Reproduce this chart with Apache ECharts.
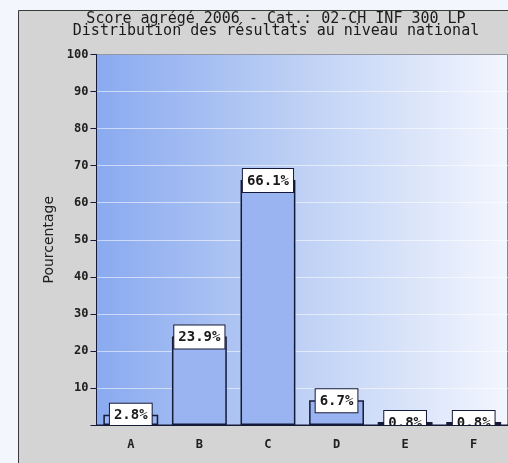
<!DOCTYPE html>
<html>
<head>
<meta charset="utf-8">
<script src="https://cdn.jsdelivr.net/npm/echarts@6/dist/echarts.min.js"></script>
<style>html,body{margin:0;padding:0;background:#f3f7fd;}#c{width:508px;height:463px;}</style>
</head>
<body>
<div id="c"></div>
<script>
var categories = ['A', 'B', 'C', 'D', 'E', 'F'];
var values = [2.8, 23.9, 66.1, 6.7, 0.8, 0.8];
var yTicks = [10, 20, 30, 40, 50, 60, 70, 80, 90, 100];
var titleLines = ['Score agrégé 2006 - Cat.: 02-CH INF 300 LP', 'Distribution des résultats au niveau national'];
var yName = 'Pourcentage';

var chart = echarts.init(document.getElementById('c'), null, {renderer: 'canvas'});
var mono = '"DejaVu Sans Mono", "Liberation Mono", monospace';
var dark = '#151a38';
chart.setOption({
  backgroundColor: '#f3f7fd',
  animation: false,
  title: {
    text: titleLines.join('\n'),
    left: 271, top: 8, textAlign: 'center',
    textStyle: {fontFamily: mono, fontSize: 15, fontWeight: 'normal', color: '#1a1a1a', lineHeight: 12}
  },
  graphic: [
    {type: 'rect', z: -10, shape: {x: 18.5, y: 10.5, width: 600, height: 600},
     style: {fill: '#d4d4d4', stroke: '#3a3a3a', lineWidth: 1}},
    {type: 'rect', z: 10, shape: {x: 19, y: 426, width: 500, height: 40},
     style: {fill: '#d4d4d4'}}
  ],
  grid: {
    left: 96.5, right: -1, top: 54.5, bottom: 38,
    show: true, borderColor: dark, borderWidth: 1,
    backgroundColor: new echarts.graphic.LinearGradient(0, 0, 1, 0, [
      {offset: 0, color: '#8aaaf0'},
      {offset: 0.45, color: '#b9cdf4'},
      {offset: 1, color: '#f3f6fe'}
    ])
  },
  xAxis: {
    type: 'category', data: categories, z: 20,
    axisLine: {lineStyle: {color: dark, width: 1}},
    axisTick: {alignWithLabel: true, length: 5, lineStyle: {color: dark}},
    axisLabel: {fontFamily: mono, fontSize: 12, fontWeight: 'bold', color: '#202020', margin: 14}
  },
  yAxis: {
    type: 'value', min: 0, max: 100, interval: 10,
    name: yName, nameLocation: 'middle', nameGap: 40,
    nameTextStyle: {fontFamily: 'DejaVu Sans, sans-serif', fontSize: 14, color: '#202020'},
    axisLine: {show: true, lineStyle: {color: dark, width: 1}},
    axisTick: {show: true, length: 6, lineStyle: {color: dark}},
    axisLabel: {fontFamily: mono, fontSize: 12, fontWeight: 'bold', color: '#202020', margin: 8,
      formatter: function (v) { return yTicks.indexOf(v) >= 0 ? String(v) : ''; }},
    splitLine: {show: true, lineStyle: {color: 'rgba(255,255,255,0.55)', width: 1}}
  },
  series: [{
    type: 'bar', data: values, barWidth: '80%',
    itemStyle: {color: '#99b4f0', borderColor: dark, borderWidth: 1.5},
    label: {
      show: true, position: 'top', distance: -12,
      formatter: function (p) { return p.value.toFixed(1) + '%'; },
      fontFamily: mono, fontSize: 14, fontWeight: 'bold', color: '#1a1a1a',
      backgroundColor: '#ffffff', borderColor: dark, borderWidth: 1,
      padding: [5, 4, 4, 4]
    }
  }]
});
</script>
</body>
</html>
